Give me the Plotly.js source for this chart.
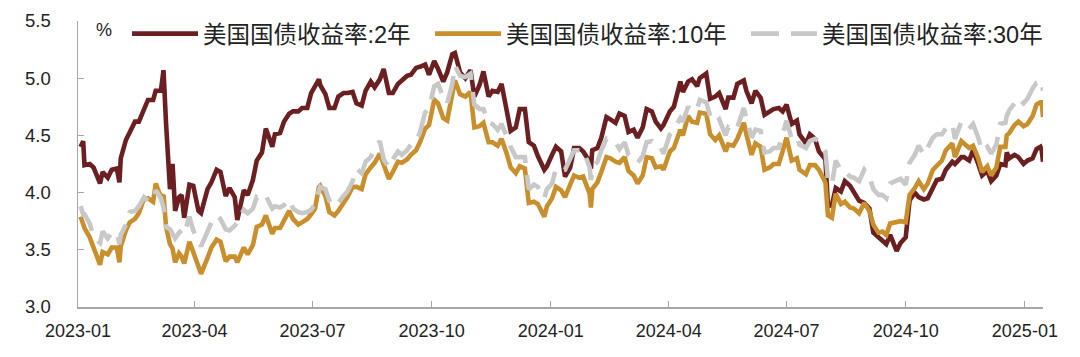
<!DOCTYPE html>
<html>
<head>
<meta charset="utf-8">
<script src="https://cdn.plot.ly/plotly-3.0.1.min.js"></script>
<style>html,body{margin:0;padding:0;background:#fff;}#chart{width:1080px;height:357px;}</style>
</head>
<body>
<div id="chart"></div>
<script>
const seriesNames = ["美国国债收益率:2年", "美国国债收益率:10年", "美国国债收益率:30年"];
const dates = [
"2023-01-03","2023-01-05","2023-01-06","2023-01-10","2023-01-13","2023-01-18","2023-01-20","2023-01-24","2023-01-27","2023-01-31",
"2023-02-02","2023-02-03","2023-02-07","2023-02-10","2023-02-14","2023-02-17","2023-02-21","2023-02-24","2023-02-28",
"2023-03-02","2023-03-06","2023-03-08","2023-03-10","2023-03-13","2023-03-15","2023-03-17","2023-03-20","2023-03-22","2023-03-24","2023-03-28","2023-03-31",
"2023-04-04","2023-04-06","2023-04-11","2023-04-14","2023-04-18","2023-04-21","2023-04-25","2023-04-28",
"2023-05-02","2023-05-04","2023-05-09","2023-05-12","2023-05-16","2023-05-19","2023-05-23","2023-05-26","2023-05-31",
"2023-06-02","2023-06-06","2023-06-09","2023-06-13","2023-06-16","2023-06-20","2023-06-23","2023-06-27","2023-06-30",
"2023-07-03","2023-07-06","2023-07-07","2023-07-11","2023-07-14","2023-07-18","2023-07-21","2023-07-25","2023-07-28",
"2023-08-01","2023-08-04","2023-08-08","2023-08-11","2023-08-15","2023-08-18","2023-08-22","2023-08-25","2023-08-29",
"2023-09-01","2023-09-05","2023-09-08","2023-09-12","2023-09-15","2023-09-19","2023-09-22","2023-09-26","2023-09-29",
"2023-10-03","2023-10-06","2023-10-10","2023-10-13","2023-10-17","2023-10-19","2023-10-23","2023-10-27","2023-10-31",
"2023-11-03","2023-11-07","2023-11-10","2023-11-14","2023-11-17","2023-11-21","2023-11-24","2023-11-28",
"2023-12-01","2023-12-05","2023-12-08","2023-12-12","2023-12-15","2023-12-19","2023-12-22","2023-12-27","2023-12-29",
"2024-01-02","2024-01-05","2024-01-09","2024-01-12","2024-01-16","2024-01-19","2024-01-23","2024-01-26","2024-01-31",
"2024-02-01","2024-02-02","2024-02-06","2024-02-09","2024-02-13","2024-02-16","2024-02-20","2024-02-23","2024-02-27",
"2024-03-01","2024-03-05","2024-03-08","2024-03-12","2024-03-15","2024-03-19","2024-03-22","2024-03-26","2024-03-28",
"2024-04-02","2024-04-05","2024-04-10","2024-04-12","2024-04-16","2024-04-19","2024-04-23","2024-04-25","2024-04-30",
"2024-05-03","2024-05-07","2024-05-10","2024-05-15","2024-05-17","2024-05-21","2024-05-24","2024-05-29","2024-05-31",
"2024-06-04","2024-06-07","2024-06-11","2024-06-14","2024-06-18","2024-06-21","2024-06-25","2024-06-28",
"2024-07-01","2024-07-05","2024-07-09","2024-07-11","2024-07-16","2024-07-19","2024-07-23","2024-07-26","2024-07-31",
"2024-08-02","2024-08-05","2024-08-08","2024-08-12","2024-08-15","2024-08-19","2024-08-22","2024-08-26","2024-08-30",
"2024-09-03","2024-09-06","2024-09-10","2024-09-13","2024-09-16","2024-09-19","2024-09-24","2024-09-27",
"2024-10-01","2024-10-04","2024-10-08","2024-10-11","2024-10-15","2024-10-18","2024-10-22","2024-10-25","2024-10-29",
"2024-11-01","2024-11-06","2024-11-08","2024-11-13","2024-11-15","2024-11-19","2024-11-22","2024-11-26","2024-11-29",
"2024-12-03","2024-12-06","2024-12-10","2024-12-13","2024-12-17","2024-12-18","2024-12-20","2024-12-24","2024-12-27","2024-12-31",
"2025-01-03","2025-01-07","2025-01-10","2025-01-13","2025-01-14","2025-01-15"
];
const y2 = [
4.40,4.45,4.24,4.25,4.22,4.08,4.18,4.13,4.20,4.21,
4.09,4.30,4.46,4.52,4.62,4.62,4.72,4.81,4.81,
4.89,4.89,5.07,4.60,4.03,4.25,3.84,3.96,3.98,3.78,4.07,4.06,
3.84,3.82,4.03,4.09,4.20,4.18,3.97,4.04,
3.96,3.76,4.02,3.98,4.11,4.28,4.35,4.56,4.40,
4.51,4.52,4.62,4.69,4.71,4.71,4.74,4.74,4.87,
4.94,4.99,4.94,4.86,4.74,4.74,4.84,4.87,4.87,
4.88,4.78,4.76,4.89,4.97,4.92,4.99,5.08,4.87,
4.87,4.95,4.98,5.02,5.03,5.09,5.10,5.12,5.03,
5.15,5.08,4.97,5.05,5.21,5.22,5.05,5.00,5.07,
4.84,4.94,5.06,4.84,4.89,4.88,4.95,4.73,
4.54,4.57,4.73,4.73,4.44,4.41,4.32,4.20,4.23,
4.33,4.40,4.36,4.14,4.22,4.39,4.39,4.36,4.27,
4.21,4.37,4.39,4.48,4.66,4.64,4.61,4.69,4.67,
4.53,4.55,4.48,4.57,4.73,4.71,4.62,4.56,4.59,
4.71,4.75,4.97,4.88,4.97,4.99,4.93,5.00,5.04,
4.82,4.84,4.87,4.73,4.83,4.83,4.95,4.98,4.89,
4.78,4.89,4.83,4.68,4.71,4.73,4.74,4.71,
4.77,4.60,4.63,4.51,4.43,4.51,4.47,4.36,4.29,
3.88,3.89,4.04,4.01,4.10,4.06,4.01,3.93,3.91,
3.86,3.65,3.61,3.57,3.55,3.63,3.49,3.56,
3.61,3.93,4.00,3.96,3.94,3.95,4.03,4.11,4.12,
4.20,4.27,4.25,4.31,4.31,4.28,4.37,4.25,4.15,
4.19,4.10,4.15,4.25,4.24,4.35,4.30,4.33,4.31,4.25,
4.28,4.30,4.38,4.40,4.37,4.27
];
const y10 = [
3.79,3.71,3.69,3.61,3.51,3.37,3.48,3.46,3.52,3.52,
3.39,3.53,3.67,3.74,3.77,3.82,3.95,3.95,3.92,
4.08,3.96,3.98,3.70,3.55,3.51,3.39,3.47,3.44,3.38,3.57,3.48,
3.35,3.29,3.43,3.52,3.59,3.57,3.40,3.44,
3.44,3.39,3.52,3.46,3.54,3.70,3.72,3.80,3.64,
3.69,3.69,3.75,3.84,3.77,3.72,3.74,3.77,3.81,
3.86,4.05,4.06,3.97,3.83,3.80,3.84,3.91,3.96,
4.05,4.05,4.03,4.16,4.22,4.26,4.34,4.25,4.12,
4.18,4.27,4.26,4.29,4.33,4.37,4.44,4.56,4.59,
4.81,4.78,4.65,4.63,4.85,4.98,4.86,4.84,4.88,
4.57,4.58,4.61,4.44,4.44,4.41,4.47,4.34,
4.22,4.17,4.23,4.21,3.91,3.92,3.90,3.79,3.88,
3.95,4.05,4.02,3.96,4.07,4.15,4.13,4.14,3.99,
3.87,4.03,4.09,4.18,4.31,4.30,4.27,4.26,4.31,
4.19,4.15,4.08,4.15,4.31,4.30,4.22,4.23,4.20,
4.36,4.39,4.55,4.50,4.67,4.62,4.61,4.70,4.69,
4.51,4.46,4.50,4.36,4.42,4.41,4.47,4.61,4.51,
4.33,4.43,4.40,4.20,4.22,4.25,4.25,4.36,
4.48,4.28,4.30,4.20,4.16,4.24,4.24,4.20,4.09,
3.80,3.78,3.99,3.90,3.92,3.87,3.86,3.82,3.91,
3.84,3.72,3.65,3.66,3.63,3.73,3.74,3.75,
3.74,3.98,4.04,4.10,4.03,4.08,4.20,4.24,4.28,
4.37,4.43,4.31,4.45,4.43,4.39,4.41,4.30,4.18,
4.23,4.15,4.22,4.40,4.40,4.50,4.52,4.59,4.62,4.58,
4.60,4.67,4.77,4.79,4.79,4.66
];
const y30 = [
3.88,3.81,3.81,3.73,3.61,3.56,3.66,3.60,3.65,3.65,
3.55,3.63,3.72,3.83,3.84,3.88,3.96,3.93,3.93,
4.02,3.95,3.87,3.70,3.68,3.64,3.60,3.65,3.67,3.64,3.79,3.67,
3.58,3.53,3.66,3.74,3.80,3.77,3.68,3.67,
3.71,3.74,3.85,3.82,3.86,3.96,3.94,3.97,3.86,
3.88,3.87,3.89,3.94,3.86,3.83,3.82,3.83,3.85,
3.90,4.04,4.05,4.03,3.93,3.88,3.91,3.97,4.01,
4.10,4.21,4.17,4.27,4.31,4.38,4.45,4.29,4.22,
4.29,4.36,4.33,4.37,4.42,4.44,4.53,4.70,4.73,
4.93,4.95,4.83,4.78,4.95,5.11,5.02,5.01,5.04,
4.77,4.73,4.73,4.61,4.60,4.55,4.60,4.49,
4.40,4.31,4.31,4.31,4.03,4.07,4.05,3.95,4.03,
4.08,4.21,4.19,4.20,4.31,4.37,4.37,4.37,4.22,
4.11,4.22,4.27,4.37,4.47,4.45,4.44,4.38,4.44,
4.33,4.30,4.26,4.32,4.44,4.45,4.40,4.39,4.34,
4.51,4.55,4.65,4.62,4.75,4.71,4.73,4.81,4.79,
4.67,4.61,4.64,4.50,4.57,4.54,4.57,4.74,4.65,
4.48,4.55,4.54,4.35,4.36,4.39,4.39,4.51,
4.63,4.47,4.49,4.42,4.39,4.45,4.47,4.45,4.36,
4.11,4.07,4.28,4.19,4.19,4.14,4.13,4.10,4.20,
4.14,4.03,3.98,3.98,3.95,4.08,4.11,4.12,
4.07,4.26,4.33,4.41,4.33,4.39,4.48,4.51,4.51,
4.56,4.60,4.47,4.62,4.60,4.56,4.60,4.48,4.36,
4.40,4.34,4.42,4.60,4.61,4.67,4.72,4.78,4.83,4.78,
4.82,4.91,4.96,4.97,4.98,4.89
];
const yTickVals = [3.0, 3.5, 4.0, 4.5, 5.0, 5.5];
const yTickText = ["3.0", "3.5", "4.0", "4.5", "5.0", "5.5"];
const xTickVals = ["2023-01-01","2023-04-01","2023-07-01","2023-10-01","2024-01-01","2024-04-01","2024-07-01","2024-10-01","2025-01-01"];
const xTickText = ["2023-01","2023-04","2023-07","2023-10","2024-01","2024-04","2024-07","2024-10","2025-01"];

const colors = ["#6C1F20", "#C98F2C", "#C8C8C8"];
const traces = [
  {x: dates, y: y2, name: seriesNames[0], type: "scatter", mode: "lines", legend: "legend", line: {color: colors[0], width: 4.6}},
  {x: dates, y: y10, name: seriesNames[1], type: "scatter", mode: "lines", legend: "legend2", line: {color: colors[1], width: 4.6}},
  {x: dates, y: y30, name: seriesNames[2], type: "scatter", mode: "lines", legend: "legend3", line: {color: colors[2], width: 4.6, dash: "28px,12px"}}
];
const fontFam = "Liberation Sans, Arial, Noto Sans CJK SC, sans-serif";
function legendAt(x) {
  return {
    orientation: "h", x: x, y: 0.955, xanchor: "left", yanchor: "middle",
    font: {size: 23.5, family: fontFam, color: "#222"},
    itemwidth: 66, bgcolor: "rgba(0,0,0,0)"
  };
}
const layout = {
  width: 1080, height: 357,
  margin: {l: 78, r: 37, t: 21, b: 50},
  paper_bgcolor: "#fff", plot_bgcolor: "#fff",
  font: {family: fontFam, color: "#222"},
  showlegend: true,
  legend: legendAt(0.0508),
  legend2: legendAt(0.3648),
  legend3: legendAt(0.6922),
  xaxis: {
    type: "date", range: ["2023-01-01", "2025-01-15"],
    tickvals: xTickVals, ticktext: xTickText,
    showgrid: false, zeroline: false,
    showline: true, linecolor: "#A6A6A6", linewidth: 1.5,
    ticks: "inside", ticklen: 6, tickcolor: "#A6A6A6", tickwidth: 1.2,
    tickfont: {size: 18, family: fontFam, color: "#222"},
    ticklabelstandoff: 7
  },
  yaxis: {
    range: [3.0, 5.5], tickvals: yTickVals, ticktext: yTickText,
    showgrid: false, zeroline: false,
    showline: true, linecolor: "#A6A6A6", linewidth: 1.5,
    ticks: "inside", ticklen: 6, tickcolor: "#A6A6A6", tickwidth: 1.2,
    tickfont: {size: 18.5, family: fontFam, color: "#222"},
    ticklabelstandoff: 22
  },
  annotations: [
    {xref: "paper", yref: "paper", x: 0.017, y: 0.97, xanchor: "left", yanchor: "middle",
     text: "%", showarrow: false, font: {size: 18, family: fontFam, color: "#222"}}
  ]
};
Plotly.newPlot("chart", traces, layout, {staticPlot: true, displayModeBar: false});
</script>
</body>
</html>
